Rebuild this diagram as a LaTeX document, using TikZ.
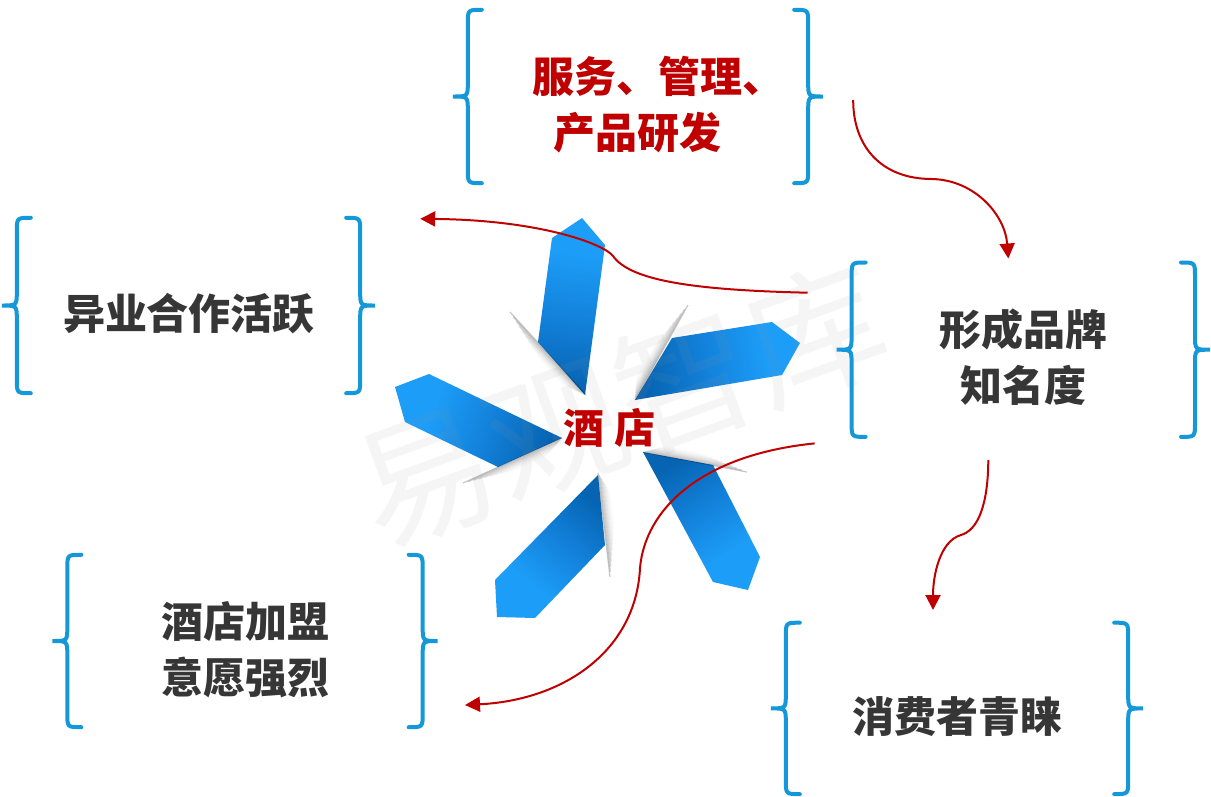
\documentclass[tikz,border=0pt]{standalone}
\usepackage{fontspec}
\newfontfamily\cjk{Noto Sans CJK SC}
\usetikzlibrary{arrows.meta,calc}

\definecolor{braceblue}{RGB}{20,152,218}
\definecolor{arrowred}{RGB}{192,0,0}
\definecolor{textgray}{RGB}{54,54,54}
\definecolor{petallight}{RGB}{28,157,247}
\definecolor{petalmid}{RGB}{20,132,222}
\definecolor{petaldark}{RGB}{6,100,178}

% blade colouring: dark at the folded inner end, light at the pointed tip
\pgfdeclareverticalshading{petalfade}{100bp}{color(0bp)=(petaldark); color(25bp)=(petaldark); color(48bp)=(petalmid); color(66bp)=(petallight); color(100bp)=(petallight)}

% a pair of curly braces around a box node
\newcommand\drawbraces[1]{%
  \draw[brace] ($(#1.north west)+(14,0)$) .. controls (#1.north west) .. ($(#1.north west)+(0,14)$)
    -- ($(#1.west)+(0,-14)$) .. controls (#1.west) .. ($(#1.west)+(-15,0)$)
    .. controls (#1.west) .. ($(#1.west)+(0,14)$)
    -- ($(#1.south west)+(0,-14)$) .. controls (#1.south west) .. ($(#1.south west)+(14,0)$);
  \draw[brace] ($(#1.north east)+(-14,0)$) .. controls (#1.north east) .. ($(#1.north east)+(0,14)$)
    -- ($(#1.east)+(0,-14)$) .. controls (#1.east) .. ($(#1.east)+(15,0)$)
    .. controls (#1.east) .. ($(#1.east)+(0,14)$)
    -- ($(#1.south east)+(0,-14)$) .. controls (#1.south east) .. ($(#1.south east)+(-14,0)$);
}

% soft shadow along a folded edge: from #1 (faded end) to #2, offset along normal (#3,#4)
\newcommand\foldshadow[4]{%
  \foreach \k in {0,...,11}{%
    \pgfmathsetmacro\shop{0.22*(1-\k/12)*(1-\k/12)}%
    \pgfmathsetmacro\ta{0.05*\k}%
    \pgfmathsetmacro\tb{0.02*\k}%
    \pgfmathsetmacro\ox{\k*(#3)}%
    \pgfmathsetmacro\oy{\k*(#4)}%
    \draw[line width=1.2pt, black, opacity=\shop]
      ($#1!\ta!#2+(\ox,\oy)$) -- ($#2!\tb!#1+(\ox,\oy)$);
  }}

\begin{document}
\begin{tikzpicture}[x=1pt, y=-1pt,
  brace/.style={draw=braceblue, line width=4pt, line cap=round},
  box/.style={rectangle, inner sep=0pt, minimum width=#1},
  label/.style={font=\cjk\bfseries\fontsize{42pt}{56pt}\selectfont, text=textgray, align=center, inner sep=0pt},
  redlabel/.style={label, text=arrowred},
  hub/.style={font=\cjk\bfseries\fontsize{41pt}{41pt}\selectfont, text=arrowred, inner sep=0pt},
  watermark/.style={font=\cjk\fontsize{138pt}{138pt}\selectfont, text=black!40, text opacity=0.09, rotate=20, inner sep=0pt},
  blade/.style={shading=petalfade, shading angle=#1},
  conn/.style={draw=arrowred, line width=2pt, -{Triangle[length=15pt,width=15pt]}}
]
\useasboundingbox (0,0) rectangle (1211,796);
\fill[white] (0,0) rectangle (1211,796);

% five blades of the central pinwheel
\shade[blade=-7]  (538,342) -- (552,238) -- (582,218) -- (605,245) -- (585,395) -- cycle;
\shade[blade=-80] (672,338) -- (772,322) -- (800,343) -- (782,375) -- (635,400) -- cycle;
\shade[blade=-147] (643,452) -- (713,465) -- (760,557) -- (748,590) -- (713,582) -- cycle;
\shade[blade=141] (598,475) -- (495,580) -- (497,617) -- (535,618) -- (605,545) -- cycle;
\shade[blade=70]  (562,438) -- (429,374) -- (395,387) -- (405,422) -- (498,467) -- cycle;

% folds between the blades
\foldshadow{(510,312)}{(586,395)}{-0.738}{0.675}
\foldshadow{(688,305)}{(635,400)}{-0.873}{-0.487}
\foldshadow{(747,472)}{(643,452)}{0.189}{-0.982}
\foldshadow{(610,577)}{(598,473)}{0.993}{-0.115}
\foldshadow{(463,483)}{(562,438)}{0.414}{0.911}

% watermark
\node[watermark] (wm) at (620,405) {易观智库};

% centre label
\node[hub] (hotel) at (609.5,428) {酒 店};

% bracketed boxes
\node[box=340pt, minimum height=173pt] (bTop) at (638,96.5) {};
\node[box=343pt, minimum height=175pt] (bLeft) at (188.5,305.5) {};
\node[box=343pt, minimum height=174pt] (bRight) at (1023.3,349.7) {};
\node[box=355pt, minimum height=172pt] (bBL) at (245,641) {};
\node[box=342pt, minimum height=171pt] (bBR) at (957,708.4) {};

\drawbraces{bTop}
\drawbraces{bLeft}
\drawbraces{bRight}
\drawbraces{bBL}
\drawbraces{bBR}

\node[redlabel] (tTop) at (637,105) {服务、管理\rlap{、}\\产品研发};
\node[label] (tLeft) at (189,314) {异业合作活跃};
\node[label] (tRight) at (1023,357.5) {形成品牌\\知名度};
\node[label] (tBL) at (245,650) {酒店加盟\\意愿强烈};
\node[label] (tBR) at (957,717) {消费者青睐};

% connectors
\draw[conn] ($(bTop.east)+(45,3.5)$) .. controls (853,145) and (880,179) .. (932,179)
  .. controls (975,180) and (1005,215) .. ($(bRight.north)+(-15,-4)$);
\draw[conn] ($(bRight.west)+(-44,-57)$) .. controls (690,290) and (630,280) .. (613,256)
  .. controls (604,244) and (540,220) .. ($(bLeft.north east)+(60,1)$);
\draw[conn] ($(bRight.south west)+(-37,6.5)$) .. controls (700,455) and (645,510) .. (640,568)
  .. controls (636,650) and (565,700) .. ($(bBL.east)+(42.3,64)$);
\draw[conn] ($(bRight.south)+(-35,23.3)$) .. controls (988,505) and (978,530) .. (961,535)
  .. controls (940,541) and (933,575) .. ($(bBR.north)+(-24,-12.7)$);
\end{tikzpicture}
\end{document}
